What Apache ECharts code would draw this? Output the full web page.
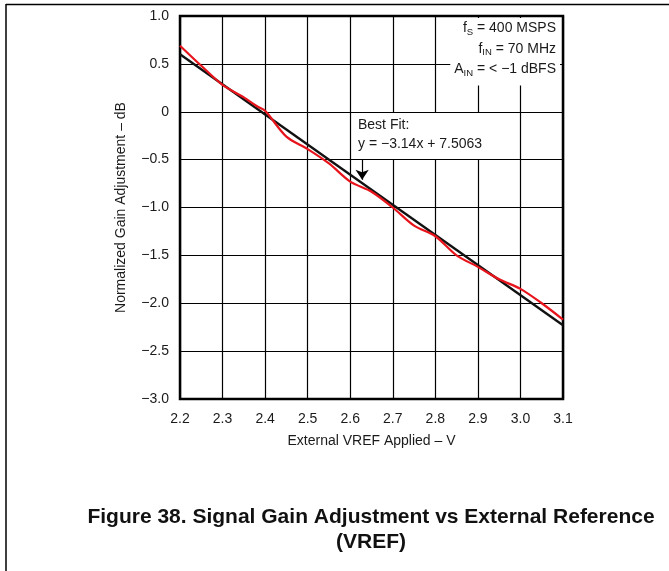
<!DOCTYPE html>
<html><head><meta charset="utf-8">
<script src="https://cdn.jsdelivr.net/npm/echarts@6/dist/echarts.min.js"></script>
<style>html,body{margin:0;padding:0;background:#fff}#c{width:669px;height:571px}</style>
</head><body><div id="c"></div>
<script>
// ---- data ----
const vrefValues = [2.20, 2.25, 2.30, 2.35, 2.38, 2.40, 2.45, 2.50, 2.55, 2.60, 2.65, 2.70, 2.75, 2.80, 2.85, 2.90, 2.95, 3.00, 3.05, 3.10];
const gainValues = [0.69, 0.48, 0.28, 0.15, 0.06, 0.01, -0.26, -0.39, -0.54, -0.73, -0.835, -1.00, -1.19, -1.30, -1.50, -1.62, -1.75, -1.85, -2.00, -2.17];
const fitVref = [2.2, 3.1];
const fitGain = [0.60, -2.23];
const xTickLabels = ['2.2', '2.3', '2.4', '2.5', '2.6', '2.7', '2.8', '2.9', '3.0', '3.1'];
const yTickLabels = ['\u22123.0', '\u22122.5', '\u22122.0', '\u22121.5', '\u22121.0', '\u22120.5', '0', '0.5', '1.0'];
const xTitle = 'External VREF Applied \u2013 V';
const yTitle = 'Normalized Gain Adjustment \u2013 dB';
const captionLines = ['Figure 38. Signal Gain Adjustment vs External Reference', '(VREF)'];
const fitLabelLines = ['Best Fit:', 'y = \u22123.14x + 7.5063'];
const arrowVref = 2.628;
const arrowGain = [-0.40, -0.71];

const FONT = '"Liberation Sans", Arial, Helvetica, sans-serif';
const X_MIN = 2.2, X_MAX = 3.1, X_INT = 0.1;
const Y_MIN = -3, Y_MAX = 1, Y_INT = 0.5;

const chart = echarts.init(document.getElementById('c'), null, {renderer: 'canvas'});
const measured = vrefValues.map((v, i) => [v, gainValues[i]]);
const fit = fitVref.map((v, i) => [v, fitGain[i]]);

chart.setOption({
  animation: false,
  backgroundColor: '#fff',
  grid: {left: 180, top: 16, width: 383, height: 383, show: true, borderColor: '#000', borderWidth: 2.5, backgroundColor: 'transparent', z: 3},
  xAxis: {
    type: 'value', min: X_MIN, max: X_MAX, interval: X_INT,
    axisLine: {show: false}, axisTick: {show: false},
    splitLine: {show: true, lineStyle: {color: '#000', width: 1.2}},
    axisLabel: {margin: 13, color: '#1a1a1a', fontSize: 14, fontFamily: FONT,
      formatter: v => xTickLabels[Math.round((v - X_MIN) / X_INT)] || ''},
    name: xTitle, nameLocation: 'middle', nameGap: 35,
    nameTextStyle: {color: '#1a1a1a', fontSize: 14, fontFamily: FONT}
  },
  yAxis: {
    type: 'value', min: Y_MIN, max: Y_MAX, interval: Y_INT,
    axisLine: {show: false}, axisTick: {show: false},
    splitLine: {show: true, lineStyle: {color: '#000', width: 1.2}},
    axisLabel: {margin: 11, color: '#1a1a1a', fontSize: 14, fontFamily: FONT,
      formatter: v => yTickLabels[Math.round((v - Y_MIN) / Y_INT)] || ''},
    name: yTitle, nameLocation: 'middle', nameGap: 52,
    nameTextStyle: {color: '#1a1a1a', fontSize: 14, fontFamily: FONT}
  },
  series: [
    {
      type: 'line', data: fit, showSymbol: false, symbol: 'none', z: 4,
      lineStyle: {color: '#111', width: 2.3},
      markLine: {
        silent: true, symbol: ['none', 'arrow'], symbolSize: 10, animation: false,
        label: {show: false},
        lineStyle: {color: '#000', width: 1.2, type: 'solid'},
        data: [[{coord: [arrowVref, arrowGain[0]]}, {coord: [arrowVref, arrowGain[1]]}]]
      }
    },
    {
      type: 'line', data: measured, showSymbol: false, symbol: 'none', smooth: 0.3, z: 5,
      lineStyle: {color: '#e8141c', width: 2.2}
    }
  ],
  graphic: [
    {type: 'line', z: 100, shape: {x1: 6, y1: 4.5, x2: 669, y2: 4.5}, style: {stroke: '#000', lineWidth: 1.5}},
    {type: 'line', z: 100, shape: {x1: 6, y1: 4, x2: 6, y2: 571}, style: {stroke: '#000', lineWidth: 1.5}},
    {
      type: 'text', z: 100, x: 560, y: 18,
      style: {
        text: '{n|f}{s|S}{n| = 400 MSPS}\n{n|f}{s|IN}{n| = 70 MHz}\n{n|A}{s|IN}{n| = < \u22121 dBFS}',
        align: 'right', verticalAlign: 'top', backgroundColor: '#fff', padding: [0, 4, 6, 4],
        fill: '#1a1a1a', font: '14px ' + FONT,
        rich: {
          n: {fontSize: 14, fontFamily: FONT, color: '#1a1a1a', lineHeight: 20.5},
          s: {fontSize: 9.5, fontFamily: FONT, color: '#1a1a1a', padding: [8, 0, 0, 0]}
        }
      }
    },
    {
      type: 'text', z: 100, x: 352, y: 113,
      style: {
        text: fitLabelLines.join('\n'), align: 'left', verticalAlign: 'top',
        backgroundColor: '#fff', padding: [3, 4, 6, 6], lineHeight: 18.5,
        fill: '#1a1a1a', font: '14px ' + FONT
      }
    },
    {
      type: 'text', z: 100, x: 371, y: 505,
      style: {
        text: captionLines.join('\n'), align: 'center', verticalAlign: 'top', lineHeight: 24.5,
        fill: '#111', font: 'bold 21px ' + FONT
      }
    }
  ]
});
</script>
</body></html>
